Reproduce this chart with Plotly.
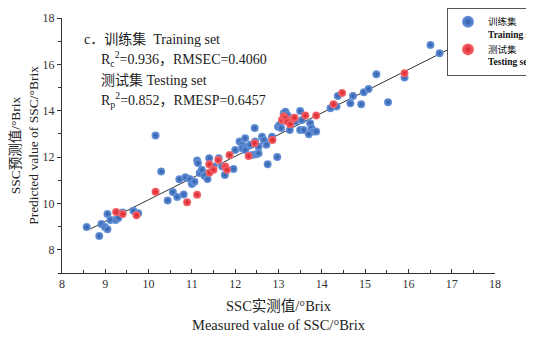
import plotly.graph_objects as go

# Training set (measured, predicted)
train_x = [8.57, 8.86, 8.91, 8.99, 9.05, 9.05, 9.12, 9.24, 9.30, 9.40, 9.65, 9.76,
           10.16, 10.29, 10.44, 10.56, 10.66, 10.81, 10.71, 10.85, 10.95, 11.00, 11.06,
           11.12, 11.14, 11.18, 11.23, 11.29, 11.36, 11.40, 11.50, 11.62, 11.70, 11.76,
           11.96, 12.00, 12.10, 12.16, 12.23, 12.27, 12.35, 12.45, 12.39, 12.49, 12.54,
           12.46, 12.54, 12.62, 12.66, 12.72, 12.85, 12.75, 12.97, 12.99, 13.03, 13.06,
           13.12, 13.16, 13.20, 13.26, 13.35, 13.39, 13.50, 13.50, 13.58, 13.54, 13.73,
           13.76, 13.80, 13.87, 13.70, 14.20, 14.34, 14.37, 14.66, 14.72, 14.91, 14.97,
           15.08, 15.26, 15.91, 15.53, 16.51, 16.72, 12.16, 12.23]
train_y = [8.98, 8.60, 9.11, 8.98, 8.89, 9.55, 9.29, 9.29, 9.37, 9.61, 9.69, 9.58,
           12.93, 11.38, 10.13, 10.49, 10.28, 10.39, 11.04, 11.13, 11.05, 10.84, 10.94,
           11.85, 11.74, 11.31, 11.45, 11.19, 11.05, 11.95, 11.59, 11.95, 11.59, 11.23,
           11.49, 12.31, 12.67, 12.53, 12.81, 12.45, 12.53, 13.25, 12.09, 12.12, 12.17,
           12.67, 12.45, 12.88, 12.74, 12.53, 12.88, 11.69, 12.00, 13.31, 13.39, 13.25,
           13.89, 13.96, 13.82, 13.17, 13.70, 13.53, 13.99, 13.17, 13.17, 13.60, 13.46,
           13.25, 13.10, 13.10, 12.99, 14.11, 14.18, 14.64, 14.32, 14.64, 14.28, 14.80,
           14.94, 15.57, 15.43, 14.37, 16.84, 16.48, 12.38, 12.31]

# Testing set (measured, predicted)
test_x = [9.25, 9.40, 9.72, 10.16, 10.89, 11.12, 11.40, 11.41, 11.50, 11.61, 11.77,
          11.81, 11.87, 12.31, 12.45, 12.86, 13.08, 13.12, 13.16, 13.20, 13.27, 13.34,
          13.37, 13.62, 13.87, 14.27, 14.47, 15.91]
test_y = [9.63, 9.54, 9.49, 10.50, 10.05, 10.38, 11.69, 11.33, 11.45, 11.87, 11.59,
          11.45, 12.09, 12.05, 12.60, 12.74, 13.60, 13.75, 13.68, 13.53, 13.42, 13.65,
          13.70, 13.79, 13.79, 14.28, 14.77, 15.62]

# Fitted line
fit_slope = 0.936
fit_intercept = 0.80
fit_x = [8.65, 17.4]
fit_y = [fit_slope * v + fit_intercept for v in fit_x]

x_ticks = [8, 9, 10, 11, 12, 13, 14, 15, 16, 17, 18]
y_ticks = [8, 10, 12, 14, 16, 18]

SERIF = "Liberation Serif, Times New Roman, Noto Sans CJK SC, serif"

# page body has an 8px margin: work in viewport coords and subtract it
OFF = 8
L, T, W, H = 62 - OFF, 18 - OFF, 433, 255
FW, FH = 534, 338

fig = go.Figure()
fig.add_trace(go.Scatter(x=fit_x, y=fit_y, mode="lines",
                         line=dict(color="#333333", width=1), showlegend=False,
                         hoverinfo="skip"))
fig.add_trace(go.Scatter(
    x=train_x, y=train_y, mode="markers", name="训练集<br><b>Training set</b>",
    marker=dict(size=8, color="#6a97dc", line=dict(width=0),
                gradient=dict(type="radial", color="#2c5aa8"))))
fig.add_trace(go.Scatter(
    x=test_x, y=test_y, mode="markers", name="测试集<br><b>Testing set</b>",
    marker=dict(size=8, color="#f76a6f", line=dict(width=0),
                gradient=dict(type="radial", color="#d61f28"))))

ann_font = dict(family=SERIF, size=14, color="#222222")
lines = [
    ("c．训练集  Training set", 82, 39),
    ("R<sub>c</sub><sup>2</sup>=0.936，RMSEC=0.4060", 99, 59),
    ("测试集 Testing set", 99, 80),
    ("R<sub>p</sub><sup>2</sup>=0.852，RMESP=0.6457", 99, 100),
]
for txt, px, py in lines:
    fig.add_annotation(text=txt, xref="paper", yref="paper",
                       x=(px - OFF - L) / W, y=1 - (py - OFF - T) / H,
                       xanchor="left", yanchor="middle", showarrow=False,
                       font=ann_font)

fig.update_layout(
    width=FW, height=FH,
    margin=dict(l=L, r=FW - L - W, t=T, b=FH - T - H, autoexpand=False),
    paper_bgcolor="white", plot_bgcolor="white",
    font=dict(family=SERIF, size=12, color="#222222"),
    legend=dict(x=(447 - OFF - L) / W, y=1 + (T - 0) / H, xanchor="left", yanchor="top",
                bgcolor="white", bordercolor="#555555", borderwidth=1,
                font=dict(family=SERIF, size=9.5, color="#111111"),
                tracegroupgap=0, itemsizing="constant", itemwidth=30, valign="top"),
    xaxis=dict(range=[8, 18], tickvals=x_ticks, ticks="inside", ticklen=4,
               showline=True, linecolor="#333333", linewidth=1, showgrid=False,
               zeroline=False, tickfont=dict(family=SERIF, size=12, color="#333333"),
               minor=dict(dtick=0.5, ticks="inside", ticklen=3, showgrid=False,
                          tickcolor="#333333"),
               tickcolor="#333333",
               title=dict(text="SSC实测值/°Brix<br>Measured value of SSC/°Brix",
                          font=dict(family=SERIF, size=14.5, color="#222222"),
                          standoff=10)),
    yaxis=dict(range=[7, 18], tickvals=y_ticks, ticks="outside", ticklen=4,
               showline=True, linecolor="#333333", linewidth=1, showgrid=False,
               zeroline=False, tickfont=dict(family=SERIF, size=12, color="#333333"),
               minor=dict(tickvals=[7, 9, 11, 13, 15, 17], ticks="outside", ticklen=3,
                          showgrid=False, tickcolor="#333333"),
               tickcolor="#333333",
               title=dict(text="SSC预测值/°Brix<br>Predicted value of SSC/°Brix",
                          font=dict(family=SERIF, size=13.5, color="#222222"),
                          standoff=2)),
)

fig.write_html("out.html")
